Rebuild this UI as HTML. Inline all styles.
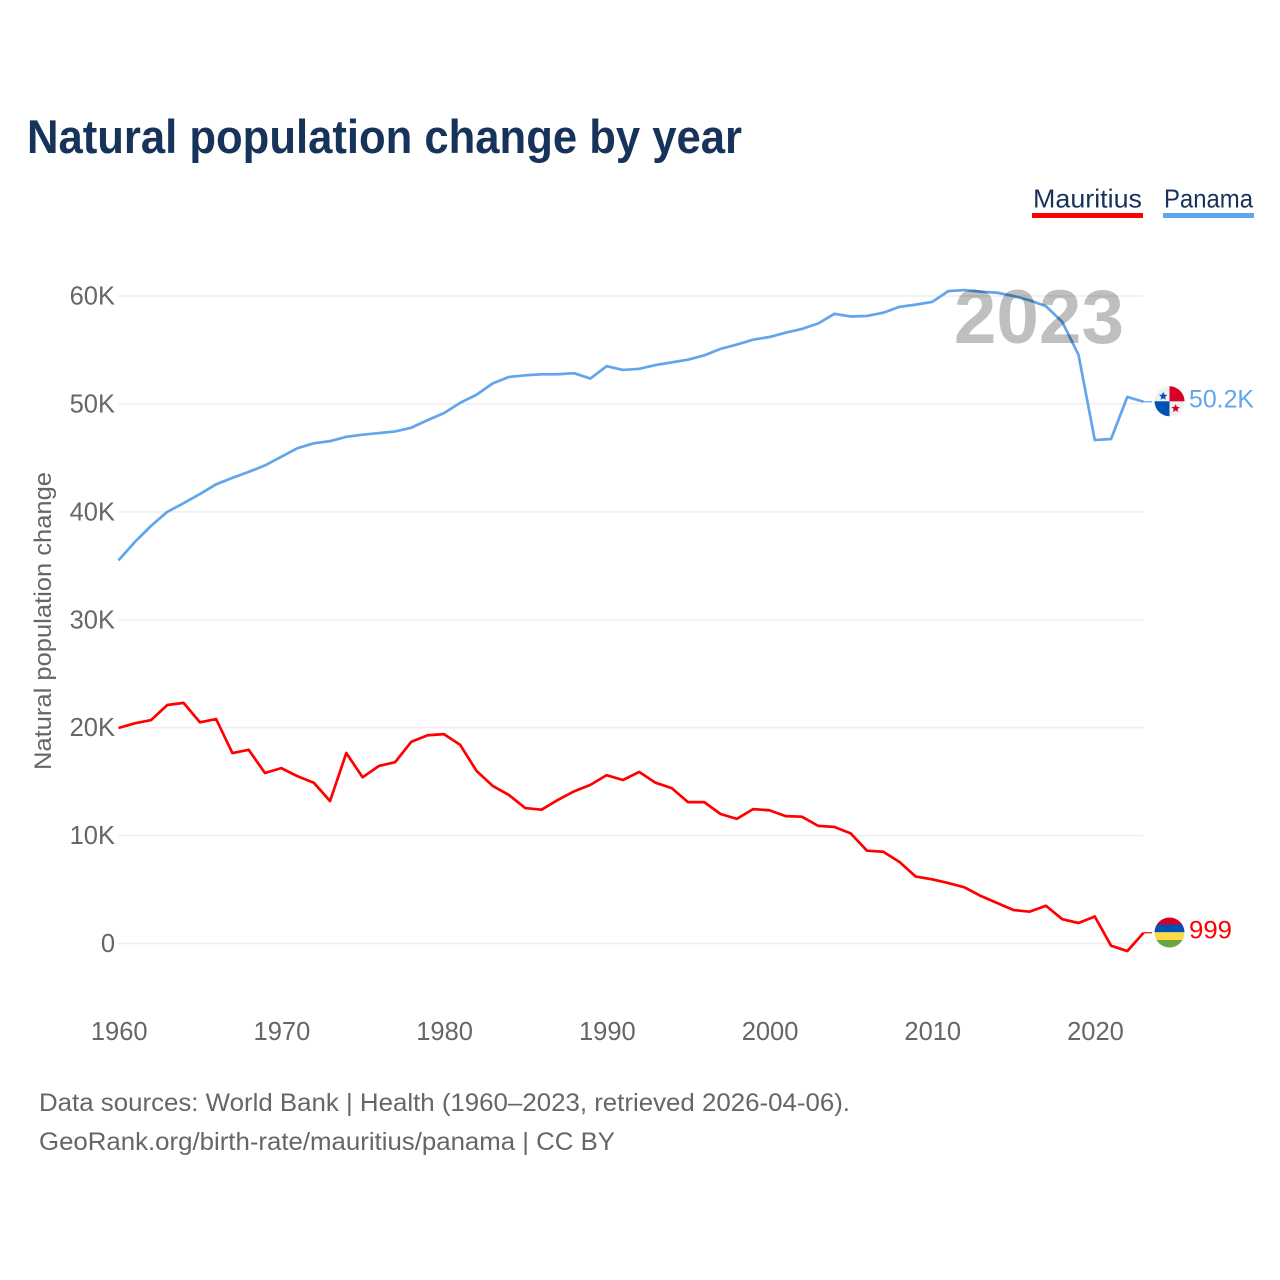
<!DOCTYPE html>
<html lang="en">
<head>
<meta charset="utf-8">
<title>Natural population change by year</title>
<style>
html,body{margin:0;padding:0;background:#fff;width:1280px;height:1280px;overflow:hidden}
svg{display:block;font-family:"Liberation Sans",sans-serif}
</style>
</head>
<body>
<svg id="chart" xmlns="http://www.w3.org/2000/svg" width="1280" height="1280" viewBox="0 0 1280 1280">
  <defs>
    <clipPath id="flag-clip-panama"><circle cx="1169.5" cy="401.3" r="15"/></clipPath>
    <clipPath id="flag-clip-mauritius"><circle cx="1169.5" cy="932.5" r="15"/></clipPath>
  </defs>
  <rect x="0" y="0" width="1280" height="1280" fill="#fff"/>
  <text x="27" y="153" font-size="47" font-weight="700" fill="#17335a" textLength="715" lengthAdjust="spacingAndGlyphs">Natural population change by year</text>

  <g>
    <text x="1033" y="207.5" font-size="26" fill="#17335a" textLength="109" lengthAdjust="spacingAndGlyphs">Mauritius</text>
    <rect x="1032" y="213" width="111" height="5" fill="#ff0000"/>
  </g>
  <g>
    <text x="1164" y="207.5" font-size="26" fill="#17335a" textLength="89" lengthAdjust="spacingAndGlyphs">Panama</text>
    <rect x="1163" y="213" width="91" height="5" fill="#62a5eb"/>
  </g>

  <g id="grid"></g>
  <g id="y-ticks"></g>
  <g id="x-ticks"></g>
  <text x="0" y="0" transform="translate(51 621) rotate(-90)" text-anchor="middle" font-size="24.5" fill="#666" textLength="298" lengthAdjust="spacingAndGlyphs">Natural population change</text>

  <g id="series"></g>
  <text id="year-label" x="1124" y="343" text-anchor="end" font-size="76.5" font-weight="700" fill="#000" fill-opacity="0.25"></text>

  <g id="flag-panama" clip-path="url(#flag-clip-panama)">
    <rect x="1154" y="386" width="31" height="31" fill="#f0f0f0"/>
    <rect x="1169.5" y="386" width="15.5" height="15.3" fill="#d80027"/>
    <rect x="1154" y="401.3" width="15.5" height="15.7" fill="#0052b4"/>
    <polygon points="1163.2,391.8 1164.4,394.6 1167.4,394.9 1165.1,396.9 1165.8,399.8 1163.2,398.3 1160.6,399.8 1161.3,396.9 1159,394.9 1162,394.6" fill="#0052b4"/>
    <polygon points="1175.6,404 1176.8,406.8 1179.8,407.1 1177.5,409.1 1178.2,412 1175.6,410.5 1173,412 1173.7,409.1 1171.4,407.1 1174.4,406.8" fill="#d80027"/>
  </g>
  <g id="flag-mauritius" clip-path="url(#flag-clip-mauritius)">
    <rect x="1154" y="917" width="31" height="7.6" fill="#d80027"/>
    <rect x="1154" y="924.5" width="31" height="7.8" fill="#0052b4"/>
    <rect x="1154" y="932.3" width="31" height="7.8" fill="#ffda44"/>
    <rect x="1154" y="940" width="31" height="8.5" fill="#6da544"/>
  </g>
  <text x="1189" y="407.5" font-size="25" fill="#62a5eb" textLength="65" lengthAdjust="spacingAndGlyphs">50.2K</text>
  <text x="1189" y="938.5" font-size="25" fill="#ff0000" textLength="43" lengthAdjust="spacingAndGlyphs">999</text>

  <text x="39" y="1111" font-size="25" fill="#666" textLength="811" lengthAdjust="spacingAndGlyphs">Data sources: World Bank | Health (1960–2023, retrieved 2026-04-06).</text>
  <text x="39" y="1150" font-size="25" fill="#666" textLength="576" lengthAdjust="spacingAndGlyphs">GeoRank.org/birth-rate/mauritius/panama | CC BY</text>
</svg>
<script>
const startYear = 1960;
const endYear = 2023;
const yValues = [0, 10000, 20000, 30000, 40000, 50000, 60000];
const yLabels = ["0", "10K", "20K", "30K", "40K", "50K", "60K"];
const xValues = [1960, 1970, 1980, 1990, 2000, 2010, 2020];
const mauritius = [
  19970,20400,20700,22100,22300,20500,20800,17650,17950,15800,
  16250,15500,14900,13200,17650,15400,16450,16800,18700,19300,
  19400,18400,16000,14600,13750,12550,12400,13300,14100,14700,
  15600,15150,15900,14900,14400,13100,13100,12000,11550,12450,
  12350,11800,11750,10900,10800,10200,8600,8500,7550,6200,
  5950,5600,5200,4400,3750,3100,2950,3500,2250,1900,
  2500,-200,-700,999
];
const panama = [
  35500,37200,38700,40000,40800,41650,42550,43150,43700,44300,
  45100,45900,46350,46550,46950,47150,47300,47450,47800,48500,
  49150,50100,50850,51900,52500,52650,52750,52750,52850,52350,
  53500,53150,53250,53600,53850,54100,54500,55100,55500,55950,
  56200,56600,56950,57450,58350,58100,58150,58450,59000,59200,
  59450,60450,60550,60400,60300,60000,59600,59050,57600,54550,
  46650,46750,50650,50200
];

const SVG_NS = "http://www.w3.org/2000/svg";
const plotLeft = 118.5, plotRight = 1143.6, zeroY = 943.5, sixtyKY = 296;
function xScale(year) {
  return plotLeft + (year - startYear) * (plotRight - plotLeft) / (endYear - startYear);
}
function yScale(value) {
  return zeroY - value * (zeroY - sixtyKY) / 60000;
}
function linePath(values) {
  return values.map(function (v, i) {
    return (i ? "L" : "M") + xScale(startYear + i).toFixed(2) + " " + yScale(v).toFixed(2);
  }).join("");
}

const gridGroup = document.getElementById("grid");
const yTickGroup = document.getElementById("y-ticks");
const xTickGroup = document.getElementById("x-ticks");
const seriesGroup = document.getElementById("series");

yValues.forEach(function (v, i) {
  const gridLine = document.createElementNS(SVG_NS, "line");
  gridLine.setAttribute("x1", plotLeft);
  gridLine.setAttribute("x2", plotRight);
  gridLine.setAttribute("y1", yScale(v));
  gridLine.setAttribute("y2", yScale(v));
  gridLine.setAttribute("stroke", "#eeeeee");
  gridLine.setAttribute("stroke-width", "1.5");
  
  
  gridGroup.appendChild(gridLine);

  const yTick = document.createElementNS(SVG_NS, "text");
  yTick.setAttribute("x", 115);
  yTick.setAttribute("y", yScale(v) + 8.5);
  yTick.setAttribute("text-anchor", "end");
  yTick.setAttribute("font-size", "25.5");
  yTick.setAttribute("fill", "#666");
  yTick.textContent = yLabels[i];
  
  
  yTickGroup.appendChild(yTick);
});

xValues.forEach(function (year) {
  const xTick = document.createElementNS(SVG_NS, "text");
  xTick.setAttribute("x", xScale(year) + 0.7);
  xTick.setAttribute("y", 1040);
  xTick.setAttribute("text-anchor", "middle");
  xTick.setAttribute("font-size", "25.5");
  xTick.setAttribute("fill", "#666");
  xTick.textContent = String(year);
  
  
  xTickGroup.appendChild(xTick);
});

const mauritiusLine = document.createElementNS(SVG_NS, "path");
mauritiusLine.setAttribute("d", linePath(mauritius));
mauritiusLine.setAttribute("fill", "none");
mauritiusLine.setAttribute("stroke", "#ff0000");
mauritiusLine.setAttribute("stroke-width", "2.7");
mauritiusLine.setAttribute("stroke-linejoin", "round");


seriesGroup.appendChild(mauritiusLine);

const panamaLine = document.createElementNS(SVG_NS, "path");
panamaLine.setAttribute("d", linePath(panama));
panamaLine.setAttribute("fill", "none");
panamaLine.setAttribute("stroke", "#62a5eb");
panamaLine.setAttribute("stroke-width", "2.7");
panamaLine.setAttribute("stroke-linejoin", "round");


seriesGroup.appendChild(panamaLine);

const mauritiusConnector = document.createElementNS(SVG_NS, "line");
mauritiusConnector.setAttribute("x1", xScale(endYear));
mauritiusConnector.setAttribute("x2", 1152);
mauritiusConnector.setAttribute("y1", yScale(mauritius[mauritius.length - 1]));
mauritiusConnector.setAttribute("y2", yScale(mauritius[mauritius.length - 1]));
mauritiusConnector.setAttribute("stroke", "#ff0000");
mauritiusConnector.setAttribute("stroke-width", "1.2");


seriesGroup.appendChild(mauritiusConnector);

const panamaConnector = document.createElementNS(SVG_NS, "line");
panamaConnector.setAttribute("x1", xScale(endYear));
panamaConnector.setAttribute("x2", 1152);
panamaConnector.setAttribute("y1", yScale(panama[panama.length - 1]));
panamaConnector.setAttribute("y2", yScale(panama[panama.length - 1]));
panamaConnector.setAttribute("stroke", "#62a5eb");
panamaConnector.setAttribute("stroke-width", "1.2");


seriesGroup.appendChild(panamaConnector);

document.getElementById("year-label").textContent = String(endYear);
</script>
</body>
</html>
